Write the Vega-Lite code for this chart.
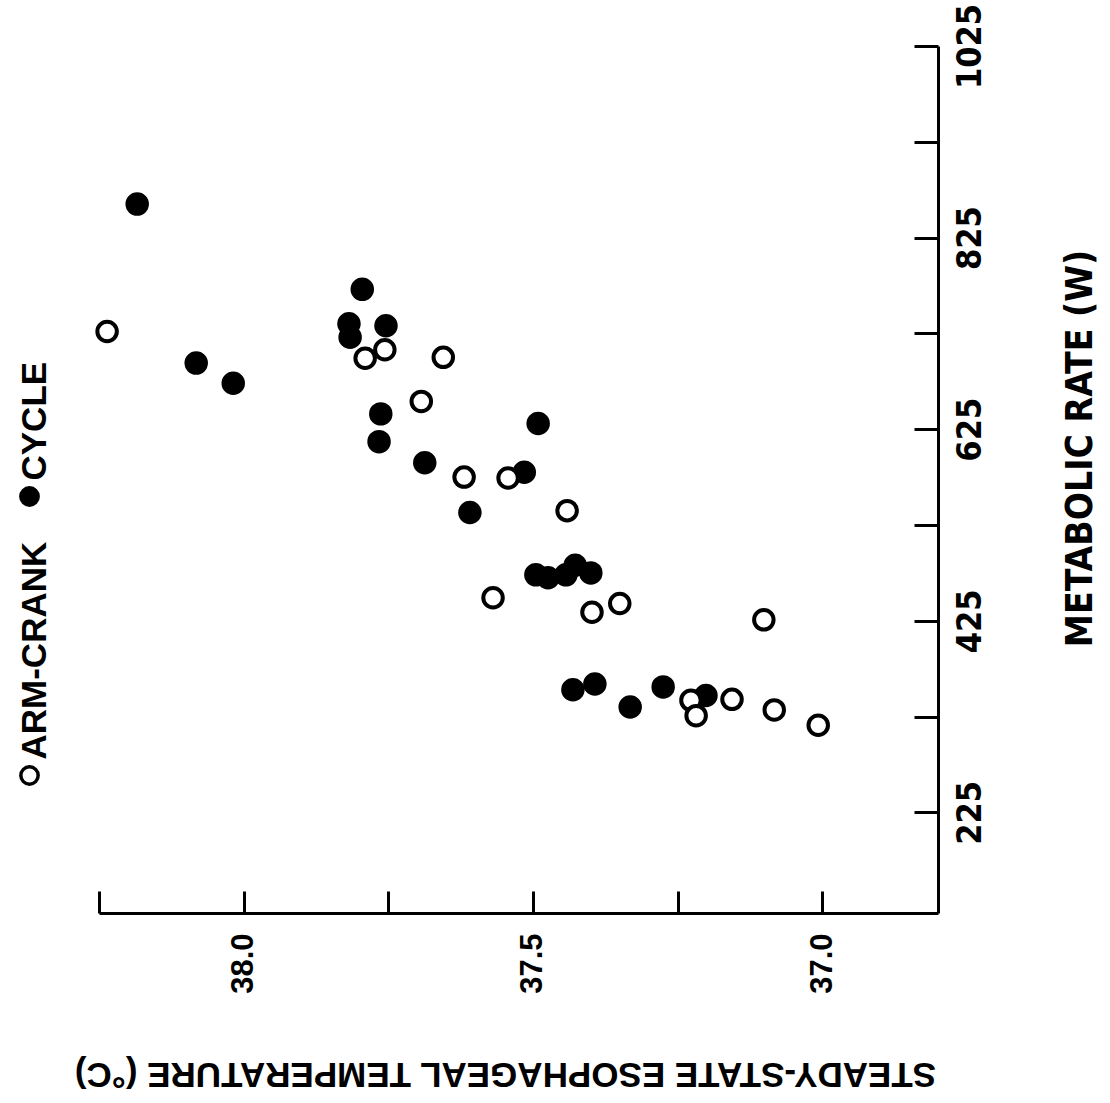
{
  "$schema": "https://vega.github.io/schema/vega-lite/v6.json",
  "autosize": "none",
  "padding": {"left": 99, "top": 46, "right": 172, "bottom": 190},
  "width": 839,
  "height": 867,
  "background": "white",
  "config": {"view": {"stroke": null}},
  "data": {"values": [
    {"type": "CYCLE", "temp": 38.184, "rate": 860},
    {"type": "CYCLE", "temp": 38.082, "rate": 694},
    {"type": "CYCLE", "temp": 38.018, "rate": 673},
    {"type": "CYCLE", "temp": 37.795, "rate": 771},
    {"type": "CYCLE", "temp": 37.818, "rate": 735},
    {"type": "CYCLE", "temp": 37.816, "rate": 721},
    {"type": "CYCLE", "temp": 37.754, "rate": 733},
    {"type": "CYCLE", "temp": 37.763, "rate": 641},
    {"type": "CYCLE", "temp": 37.766, "rate": 612},
    {"type": "CYCLE", "temp": 37.687, "rate": 590},
    {"type": "CYCLE", "temp": 37.491, "rate": 631},
    {"type": "CYCLE", "temp": 37.515, "rate": 580},
    {"type": "CYCLE", "temp": 37.609, "rate": 538},
    {"type": "CYCLE", "temp": 37.495, "rate": 473},
    {"type": "CYCLE", "temp": 37.474, "rate": 470},
    {"type": "CYCLE", "temp": 37.443, "rate": 473},
    {"type": "CYCLE", "temp": 37.427, "rate": 483},
    {"type": "CYCLE", "temp": 37.400, "rate": 475},
    {"type": "CYCLE", "temp": 37.431, "rate": 353},
    {"type": "CYCLE", "temp": 37.393, "rate": 359},
    {"type": "CYCLE", "temp": 37.332, "rate": 335},
    {"type": "CYCLE", "temp": 37.275, "rate": 356},
    {"type": "CYCLE", "temp": 37.201, "rate": 347},
    {"type": "ARM-CRANK", "temp": 38.236, "rate": 727},
    {"type": "ARM-CRANK", "temp": 37.756, "rate": 708},
    {"type": "ARM-CRANK", "temp": 37.790, "rate": 699},
    {"type": "ARM-CRANK", "temp": 37.655, "rate": 700},
    {"type": "ARM-CRANK", "temp": 37.693, "rate": 654},
    {"type": "ARM-CRANK", "temp": 37.619, "rate": 575},
    {"type": "ARM-CRANK", "temp": 37.543, "rate": 574},
    {"type": "ARM-CRANK", "temp": 37.441, "rate": 540},
    {"type": "ARM-CRANK", "temp": 37.569, "rate": 449},
    {"type": "ARM-CRANK", "temp": 37.398, "rate": 434},
    {"type": "ARM-CRANK", "temp": 37.350, "rate": 443},
    {"type": "ARM-CRANK", "temp": 37.101, "rate": 426},
    {"type": "ARM-CRANK", "temp": 37.227, "rate": 342},
    {"type": "ARM-CRANK", "temp": 37.218, "rate": 326},
    {"type": "ARM-CRANK", "temp": 37.156, "rate": 343},
    {"type": "ARM-CRANK", "temp": 37.083, "rate": 332},
    {"type": "ARM-CRANK", "temp": 37.007, "rate": 316}
  ]},
  "mark": {"type": "point", "shape": "circle", "filled": true, "stroke": "black", "strokeWidth": 4, "size": 380, "opacity": 1},
  "encoding": {
    "x": {
      "field": "temp", "type": "quantitative",
      "scale": {"domain": [36.8, 38.25], "reverse": true, "zero": false, "nice": false},
      "axis": {
        "orient": "bottom",
        "values": [38.25, 38.0, 37.75, 37.5, 37.25, 37.0],
        "labelExpr": "abs(datum.value*2 - round(datum.value*2)) < 0.01 ? format(datum.value, '.1f') : ''",
        "grid": false,
        "domainColor": "black", "domainWidth": 3,
        "tickColor": "black", "tickWidth": 3, "tickSize": -22,
        "labelPadding": 42,
        "labelAngle": 270, "labelAlign": "right", "labelBaseline": "middle",
        "labelFont": "Liberation Sans", "labelFontWeight": "bold", "labelFontSize": 31, "labelColor": "black",
        "labelFlush": false, "labelOverlap": false,
        "title": "STEADY-STATE ESOPHAGEAL TEMPERATURE (°C)",
        "titleAngle": 180, "titleX": 406, "titleY": 160, "titleAlign": "center", "titleBaseline": "middle",
        "titleFont": "Liberation Sans", "titleFontWeight": "bold", "titleFontSize": 35, "titleColor": "black"
      }
    },
    "y": {
      "field": "rate", "type": "quantitative",
      "scale": {"domain": [120, 1025], "zero": false, "nice": false},
      "axis": {
        "orient": "right",
        "values": [225, 325, 425, 525, 625, 725, 825, 925, 1025],
        "format": "d",
        "labelExpr": "datum.value % 200 == 25 ? datum.label : ''",
        "grid": false,
        "domainColor": "black", "domainWidth": 3,
        "tickColor": "black", "tickWidth": 3, "tickSize": -24,
        "labelPadding": 39,
        "labelAngle": 270, "labelAlign": "center", "labelBaseline": "top",
        "labelFont": "DejaVu Sans Condensed, sans-serif", "labelFontWeight": "bold", "labelFontSize": 34, "labelColor": "black",
        "labelFlush": false, "labelOverlap": false,
        "title": "METABOLIC RATE (W)",
        "titleAngle": 270, "titleX": 142, "titleY": 402, "titleAlign": "center", "titleBaseline": "middle",
        "titleFont": "DejaVu Sans Condensed, sans-serif", "titleFontWeight": "bold", "titleFontSize": 37, "titleColor": "black"
      }
    },
    "fill": {
      "field": "type", "type": "nominal",
      "scale": {"domain": ["CYCLE", "ARM-CRANK"], "range": ["black", "white"]},
      "legend": {
        "orient": "none", "legendX": -87, "legendY": 433,
        "direction": "vertical", "title": null, "padding": 0,
        "labelFont": "Liberation Sans", "labelFontWeight": "bold", "labelFontSize": 35, "labelColor": "black",
        "labelLimit": 0, "labelAlign": "left", "labelBaseline": "middle", "labelOffset": -12,
        "symbolType": "circle", "symbolSize": 300, "symbolStrokeColor": "black", "symbolStrokeWidth": 3.5,
        "rowPadding": 28,
        "encoding": {"labels": {"angle": {"value": 270}, "dx": {"value": 16}}}
      }
    },
    "order": {"field": "type", "sort": "descending"}
  }
}
